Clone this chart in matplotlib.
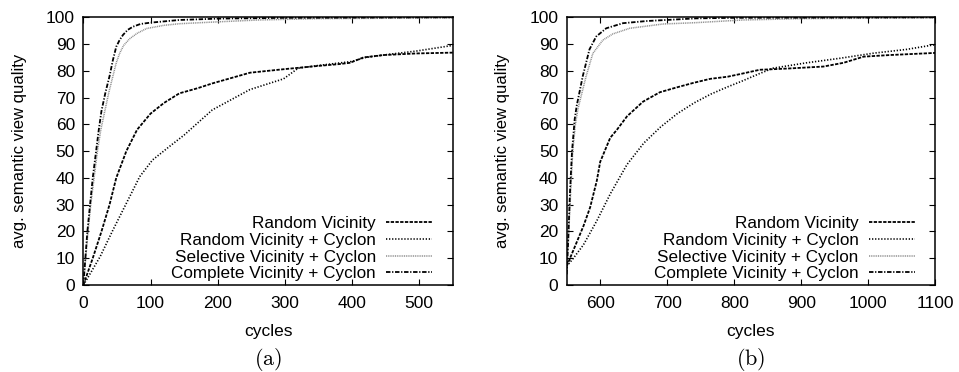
import matplotlib
matplotlib.use("Agg")
import matplotlib.pyplot as plt

# ---- data ----
labels = ["Random Vicinity", "Random Vicinity + Cyclon",
          "Selective Vicinity + Cyclon", "Complete Vicinity + Cyclon"]

# (a) cycles 0..550
a_rv_x = [0, 14, 27, 39, 49, 64, 80, 100, 120, 143, 170, 192, 227, 248, 298, 348, 380, 397, 417, 447, 496, 550]
a_rv_y = [0, 10, 20, 30, 40, 50, 58, 64, 68, 71.6, 73.5, 75.3, 77.8, 79.3, 80.6, 81.8, 82.5, 83, 85, 85.9, 86.5, 86.8]

a_rvc_x = [0, 5, 25, 44, 64, 84, 103, 128, 150, 192, 248, 298, 320, 350, 400, 420, 450, 496, 550]
a_rvc_y = [0, 2, 10.6, 20.5, 30.5, 40.5, 46.7, 51.7, 56, 65.4, 73, 77, 81, 82, 83.5, 85, 86, 87.4, 89.5]

a_svc_x = [0, 3.5, 7, 11, 16, 21, 26, 32, 38, 44, 49, 54, 60, 69, 80, 94, 120, 143, 200, 261, 350, 550]
a_svc_y = [0, 10, 20, 30, 40, 50, 58, 65, 72, 78, 83, 86.5, 89.5, 92, 94, 95.8, 97, 97.6, 98.3, 99, 99.5, 99.8]

a_cvc_x = [0, 3, 6, 10, 14, 19, 23, 27, 33, 39, 44, 49, 54, 59, 66, 74, 85, 100, 143, 200, 300, 550]
a_cvc_y = [0, 10, 20, 30, 40, 50, 58, 65, 72, 78, 84, 89, 91.5, 93.4, 95.3, 96.5, 97.5, 98, 99, 99.5, 99.8, 100]

# (b) cycles 550..1100
b_rv_x = [550, 560, 575, 585, 595, 600, 615, 625, 640, 664, 689, 714, 739, 764, 790, 809, 838, 848, 883, 933, 963, 993, 1032, 1100]
b_rv_y = [7, 13, 22, 29, 39, 46, 55, 58, 63, 68.5, 72, 73.8, 75.5, 77, 77.8, 78.8, 80.4, 80.5, 80.9, 81.6, 83, 85.3, 85.9, 86.7]

b_rvc_x = [550, 560, 575, 595, 615, 640, 665, 690, 715, 740, 765, 790, 810, 838, 858, 908, 958, 1008, 1057, 1100]
b_rvc_y = [7, 10, 15, 24, 34, 45, 53, 59, 64, 68, 71.3, 74, 76, 79, 81, 83, 84.7, 86.6, 88, 89.8]

b_svc_x = [550, 552, 556, 559, 563, 567, 579, 589, 604, 619, 644, 694, 743, 813, 900, 1100]
b_svc_y = [4, 14, 35, 50, 60, 66, 78, 86.5, 91.5, 93.8, 95.9, 97.5, 98, 99, 99.5, 99.8]

b_cvc_x = [550, 552, 555, 558, 562, 565, 574, 584, 594, 609, 634, 669, 743, 800, 1100]
b_cvc_y = [4, 15, 35, 50, 62, 67, 78, 88, 92.8, 95.9, 97.8, 98.6, 99.6, 99.8, 100]

plt.rcParams["font.family"] = ["Liberation Sans", "DejaVu Sans"]
plt.rcParams["mathtext.fontset"] = "cm"
plt.rcParams["lines.scale_dashes"] = False

fig = plt.figure(figsize=(9.59, 3.72), dpi=100)
ax_a = fig.add_axes([0.0869, 0.2339, 0.3852, 0.7196])
ax_b = fig.add_axes([0.5909, 0.2339, 0.3844, 0.7196])

styles = [
    dict(color="black", lw=1.3, dashes=(2.4, 1.0)),
    dict(color="black", lw=1.2, dashes=(0.9, 1.3)),
    dict(color="#8a8a8a", lw=1.1, dashes=(0.7, 0.6)),
    dict(color="black", lw=1.3, dashes=(3.2, 1.2, 0.9, 1.2)),
]

panels = [
    (ax_a, [(a_rv_x, a_rv_y), (a_rvc_x, a_rvc_y), (a_svc_x, a_svc_y), (a_cvc_x, a_cvc_y)],
     (0, 550), range(0, 501, 100), "(a)"),
    (ax_b, [(b_rv_x, b_rv_y), (b_rvc_x, b_rvc_y), (b_svc_x, b_svc_y), (b_cvc_x, b_cvc_y)],
     (550, 1100), range(600, 1101, 100), "(b)"),
]

for ax, series, xlim, xticks, tag in panels:
    for (xs, ys), lab, st in zip(series, labels, styles):
        ax.plot(xs, ys, label=lab, **st)
    ax.set_xlim(*xlim)
    ax.set_ylim(0, 100)
    ax.set_xticks(list(xticks))
    ax.set_yticks(range(0, 101, 10))
    ax.tick_params(direction="in", top=True, right=True, length=4, width=0.8,
                   labelsize=12.5, pad=6)
    ax.tick_params(axis="x", pad=8)
    for sp in ax.spines.values():
        sp.set_linewidth(1.1)
    ax.set_xlabel("cycles", fontsize=12.5, labelpad=9)
    ax.set_ylabel("avg. semantic view quality", fontsize=12, labelpad=14)
    ax.text(0.5, -0.278, r"$\mathrm{" + tag + "}$", transform=ax.transAxes,
            ha="center", va="center", fontsize=16)
    leg = ax.legend(loc="lower right", frameon=False, markerfirst=False,
                    fontsize=12.3, handlelength=2.7, handletextpad=0.6,
                    labelspacing=0.1, borderaxespad=0.0,
                    bbox_to_anchor=(0.963, -0.012))

fig.savefig("out.png", dpi=100)
